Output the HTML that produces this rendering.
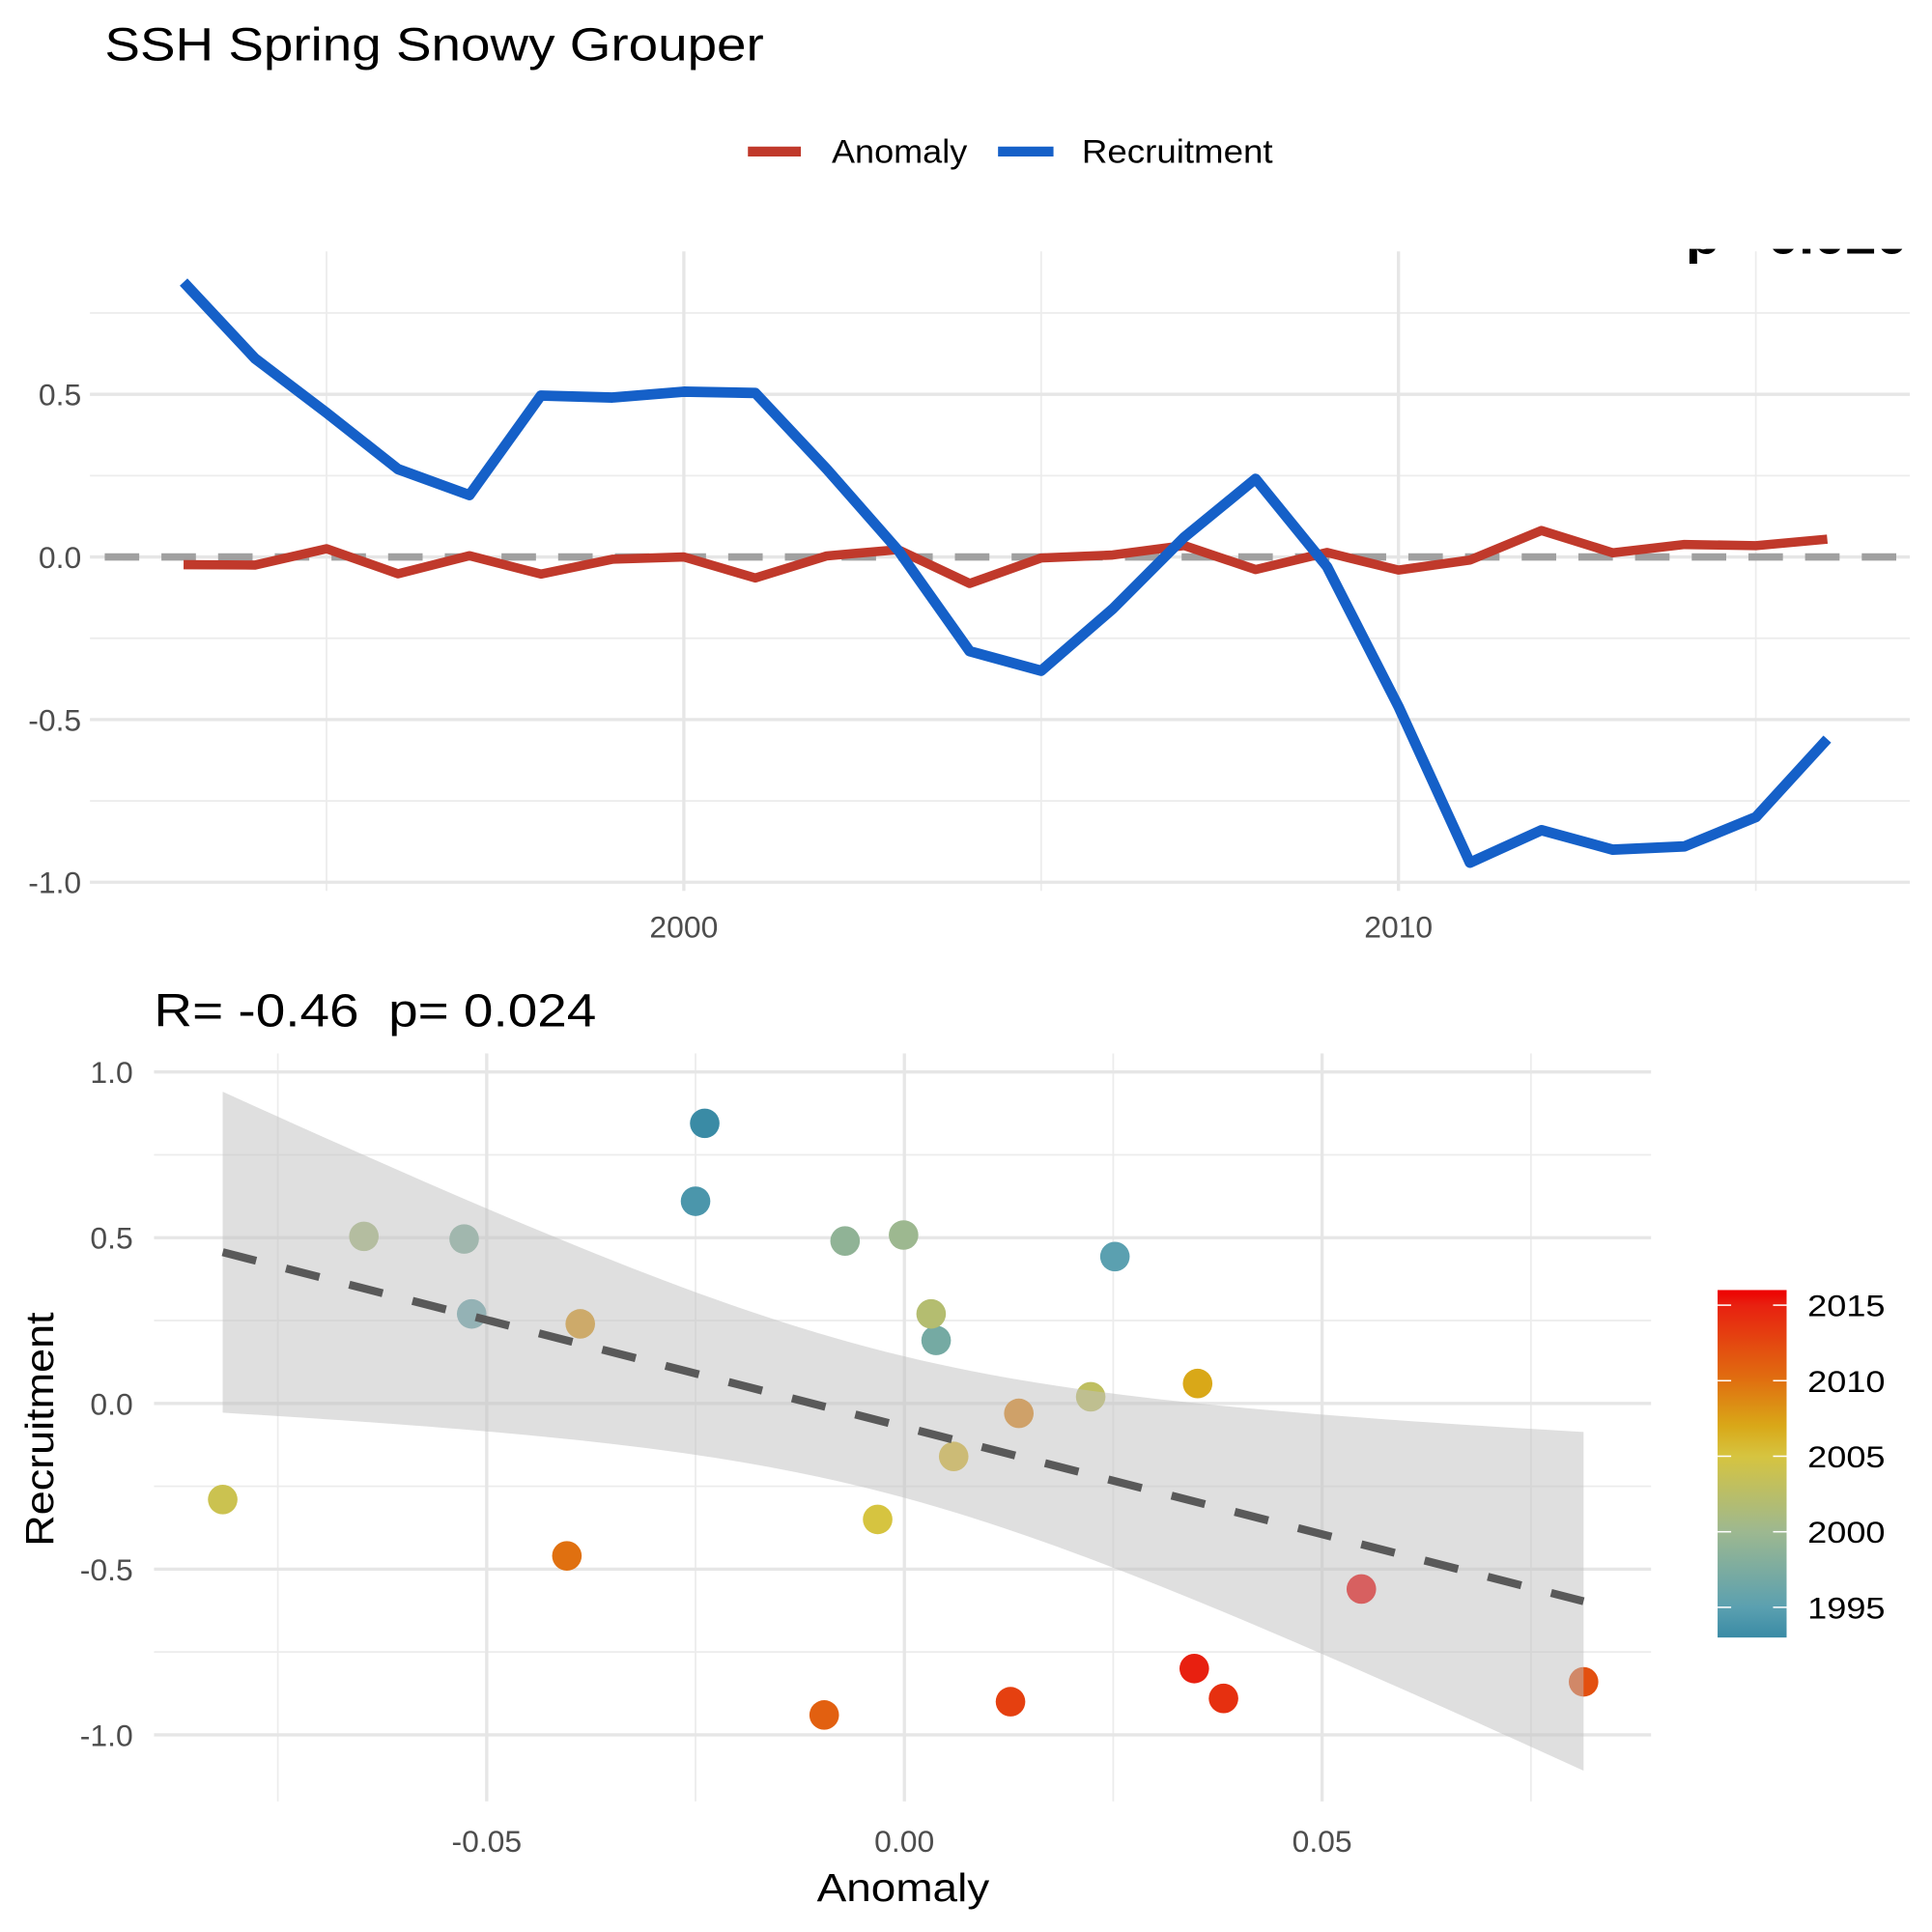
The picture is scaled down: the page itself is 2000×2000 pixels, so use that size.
<!DOCTYPE html>
<html><head><meta charset="utf-8"><style>
html,body{margin:0;padding:0;background:#fff;}
svg{display:block;font-family:"Liberation Sans",Arial,sans-serif;}
</style></head><body>
<svg id="chart" width="2000" height="2000" viewBox="0 0 1568 1568" xmlns="http://www.w3.org/2000/svg">
<defs>
<clipPath id="topclip"><rect x="73" y="202" width="1480" height="530"/></clipPath>
<linearGradient id="cbar" x1="0" y1="1" x2="0" y2="0">
<stop offset="0" stop-color="#3A8BA5"/><stop offset="0.087" stop-color="#5BA0B0"/>
<stop offset="0.304" stop-color="#9DB890"/><stop offset="0.522" stop-color="#D6C440"/>
<stop offset="0.609" stop-color="#D9A818"/><stop offset="0.739" stop-color="#E07010"/>
<stop offset="0.957" stop-color="#E82010"/><stop offset="1" stop-color="#EE0000"/>
</linearGradient>
</defs>
<text x="85" y="49" font-size="38" fill="#000" textLength="535" lengthAdjust="spacingAndGlyphs">SSH Spring Snowy Grouper</text>
<g>
<line x1="607" y1="123" x2="650" y2="123" stroke="#C0392B" stroke-width="8"/>
<text x="675" y="132" font-size="27" textLength="110" lengthAdjust="spacingAndGlyphs">Anomaly</text>
<line x1="810" y1="123" x2="855" y2="123" stroke="#1560C8" stroke-width="8"/>
<text x="878" y="132" font-size="27" textLength="155" lengthAdjust="spacingAndGlyphs">Recruitment</text>
</g>
<g id="toppanel"></g>
<text x="125" y="833" font-size="38" xml:space="preserve" textLength="359" lengthAdjust="spacingAndGlyphs">R= -0.46  p= 0.024</text>
<g id="botpanel"></g>
<text x="733" y="1543" font-size="32" text-anchor="middle" fill="#000" textLength="140" lengthAdjust="spacingAndGlyphs">Anomaly</text>
<text x="0" y="0" font-size="32" text-anchor="middle" textLength="190" lengthAdjust="spacingAndGlyphs" transform="translate(43,1160) rotate(-90)">Recruitment</text>
<g>
<rect x="1394" y="1047" width="56" height="282" fill="url(#cbar)"/>
<g id="cbticks"></g>
</g>
</svg>
<script>
const years=[1993,1994,1995,1996,1997,1998,1999,2000,2001,2002,2003,2004,2005,2006,2007,2008,2009,2010,2011,2012,2013,2014,2015,2016];
const recruitment=[0.845,0.61,0.443,0.27,0.19,0.496,0.49,0.508,0.504,0.27,0.02,-0.29,-0.35,-0.16,0.06,0.24,-0.03,-0.46,-0.94,-0.84,-0.90,-0.89,-0.80,-0.56];
const anomaly=[-0.0239,-0.025,0.0252,-0.0518,0.0038,-0.0527,-0.0071,-0.0001,-0.0647,0.0032,0.0223,-0.0816,-0.0032,0.0059,0.0351,-0.0388,0.0137,-0.0404,-0.0096,0.0813,0.0127,0.0382,0.0347,0.0547];
const topYTicks=[0.5,0.0,-0.5,-1.0];
const topYTickLabels=["0.5","0.0","-0.5","-1.0"];
const topXTicks=[2000,2010];
const botYTicks=[1.0,0.5,0.0,-0.5,-1.0];
const botYTickLabels=["1.0","0.5","0.0","-0.5","-1.0"];
const botXTicks=[-0.05,0,0.05];
const botXTickLabels=["-0.05","0.00","0.05"];
const cbTicks=[1995,2000,2005,2010,2015];

const NS="http://www.w3.org/2000/svg";
function mk(parent,tag,attrs){const e=document.createElementNS(NS,tag);for(const k in attrs)e.setAttribute(k,attrs[k]);parent.appendChild(e);return e;}
const tx=y=>555+(y-2000)*58, ty=v=>452-v*264;
const topP=document.getElementById('toppanel');
const tg=mk(topP,'g',{});


[0.75,0.25,-0.25,-0.75].forEach(v=>{mk(tg,'line',{x1:73,x2:1550,y1:ty(v),y2:ty(v),stroke:'#ECECEC','stroke-width':1.4});});
[1995,2005,2015].forEach(v=>{mk(tg,'line',{x1:tx(v),x2:tx(v),y1:204,y2:723,stroke:'#ECECEC','stroke-width':1.4});});
topYTicks.forEach((v,i)=>{mk(tg,'line',{x1:73,x2:1550,y1:ty(v),y2:ty(v),stroke:'#E6E6E6','stroke-width':2.6});
 const t=mk(topP,'text',{x:66,y:ty(v)+9,'font-size':25,fill:'#4D4D4D','text-anchor':'end'});t.textContent=topYTickLabels[i];
 
 });
topXTicks.forEach(v=>{mk(tg,'line',{x1:tx(v),x2:tx(v),y1:204,y2:723,stroke:'#E6E6E6','stroke-width':2.6});
 const t=mk(topP,'text',{x:tx(v),y:761,'font-size':25,fill:'#4D4D4D','text-anchor':'middle'});t.textContent=String(v);
 
 });
const z=mk(topP,'line',{x1:85,x2:1550,y1:ty(0),y2:ty(0),stroke:'#A0A0A0','stroke-width':6,'stroke-dasharray':'28 18'});


const pa=mk(topP,'polyline',{points:years.map((y,i)=>tx(y)+','+ty(anomaly[i])).join(' '),fill:'none',stroke:'#C0392B','stroke-width':7.5,'stroke-linejoin':'round'});


const pr=mk(topP,'polyline',{points:years.map((y,i)=>tx(y)+','+ty(recruitment[i])).join(' '),fill:'none',stroke:'#1560C8','stroke-width':8.5,'stroke-linejoin':'round'});


const cg=mk(topP,'g',{'clip-path':'url(#topclip)'});
const pt=mk(cg,'text',{x:1368,y:206,'font-size':40,'font-weight':'bold',textLength:180,lengthAdjust:'spacingAndGlyphs'});pt.textContent='p= 0.020';



const bx=a=>734+a*6780, by=v=>1139-v*269;
const botP=document.getElementById('botpanel');
const bg=mk(botP,'g',{});


[0.75,0.25,-0.25,-0.75].forEach(v=>{mk(bg,'line',{x1:125,x2:1340,y1:by(v),y2:by(v),stroke:'#ECECEC','stroke-width':1.4});});
[-0.075,-0.025,0.025,0.075].forEach(v=>{mk(bg,'line',{x1:bx(v),x2:bx(v),y1:855,y2:1462,stroke:'#ECECEC','stroke-width':1.4});});
botYTicks.forEach((v,i)=>{mk(bg,'line',{x1:125,x2:1340,y1:by(v),y2:by(v),stroke:'#E6E6E6','stroke-width':2.6});
 const t=mk(botP,'text',{x:108,y:by(v)+9,'font-size':25,fill:'#4D4D4D','text-anchor':'end'});t.textContent=botYTickLabels[i];
 
 });
botXTicks.forEach((v,i)=>{mk(bg,'line',{x1:bx(v),x2:bx(v),y1:855,y2:1462,stroke:'#E6E6E6','stroke-width':2.6});
 const t=mk(botP,'text',{x:bx(v),y:1503,'font-size':25,fill:'#4D4D4D','text-anchor':'middle'});t.textContent=botXTickLabels[i];
 
 });
const cstops=[[1993,[58,139,165]],[1995,[91,160,176]],[2000,[157,184,144]],[2005,[214,196,64]],[2007,[217,168,24]],[2010,[224,112,16]],[2015,[232,32,16]],[2016,[238,0,0]]];
function col(y){for(let i=0;i<cstops.length-1;i++){const a=cstops[i][0],ca=cstops[i][1],b=cstops[i+1][0],cb=cstops[i+1][1];if(y<=b){const f=(y-a)/(b-a);return 'rgb('+ca.map((c,j)=>Math.round(c+(cb[j]-c)*f)).join(',')+')';}}return 'rgb(238,0,0)';}
years.forEach((y,i)=>{const c=mk(botP,'circle',{cx:bx(anomaly[i]),cy:by(recruitment[i]),r:12,fill:col(y)});
 
 });
const n=years.length, mx=anomaly.reduce((a,b)=>a+b)/n, my=recruitment.reduce((a,b)=>a+b)/n;
let sxx=0,sxy=0;anomaly.forEach((x,i)=>{sxx+=(x-mx)**2;sxy+=(x-mx)*(recruitment[i]-my);});
const b1=sxy/sxx,b0=my-b1*mx;let sse=0;anomaly.forEach((x,i)=>{sse+=(recruitment[i]-b0-b1*x)**2;});
const sd=Math.sqrt(sse/(n-2)),tq=2.074;
const xmin=Math.min(...anomaly),xmax=Math.max(...anomaly);
const up=[],lo=[];for(let k=0;k<=80;k++){const x=xmin+(xmax-xmin)*k/80,f=b0+b1*x,se=tq*sd*Math.sqrt(1/n+(x-mx)**2/sxx);up.push(bx(x)+','+by(f+se));lo.unshift(bx(x)+','+by(f-se));}
const rb=mk(botP,'polygon',{points:up.concat(lo).join(' '),fill:'#C0C0C0','fill-opacity':0.5});


const rl=mk(botP,'line',{x1:bx(xmin),y1:by(b0+b1*xmin),x2:bx(xmax),y2:by(b0+b1*xmax),stroke:'#595959','stroke-width':6.5,'stroke-dasharray':'28 25'});


const cbg=document.getElementById('cbticks');const cy=y=>1329-(y-1993)*(282/23);
cbTicks.forEach(y=>{mk(cbg,'line',{x1:1394,x2:1405,y1:cy(y),y2:cy(y),stroke:'#fff','stroke-width':1.2});mk(cbg,'line',{x1:1439,x2:1450,y1:cy(y),y2:cy(y),stroke:'#fff','stroke-width':1.2});
 const t=mk(cbg,'text',{x:1467,y:cy(y)+9,'font-size':25,fill:'#000',textLength:63,lengthAdjust:'spacingAndGlyphs'});t.textContent=String(y);
 
 });
</script>
</body></html>
